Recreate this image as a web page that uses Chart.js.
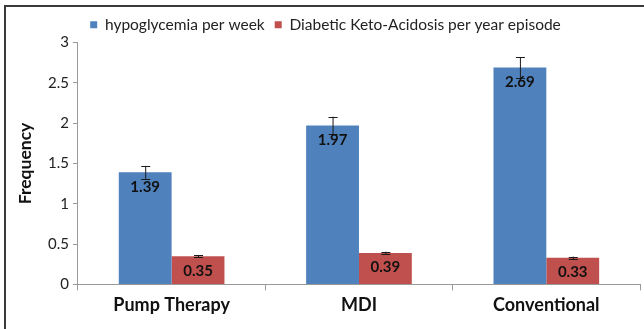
<!DOCTYPE html>
<html>
<head>
<meta charset="utf-8">
<script src="https://cdn.jsdelivr.net/npm/chart.js@4"></script>
<style>
  body { margin: 0; background: #fff; }
  #frame { position: absolute; left: 4px; top: 5px; width: 640px; height: 324px;
           border-top: 2px solid #3a3a3a; border-left: 2px solid #3a3a3a; box-sizing: border-box; }
  #wrap { position: absolute; left: 0; top: 0; width: 644px; height: 329px; }
</style>
</head>
<body>
<div id="frame"></div>
<div id="wrap"><canvas id="chart" width="644" height="329"></canvas></div>
<script>
// data
const categories = ['Pump Therapy', 'MDI', 'Conventional'];
const hypoValues = [1.39, 1.97, 2.69];
const dkaValues = [0.35, 0.39, 0.33];
const hypoErrors = [0.08, 0.11, 0.13];
const dkaErrors = [0.015, 0.015, 0.015];
const yTicks = [0, 0.5, 1, 1.5, 2, 2.5, 3];

const errorsBySet = [hypoErrors, dkaErrors];

// error bars + value labels
const extras = {
  id: 'extras',
  afterDatasetsDraw(chart) {
    const ctx = chart.ctx;
    const y = chart.scales.y;
    chart.data.datasets.forEach((ds, i) => {
      const meta = chart.getDatasetMeta(i);
      meta.data.forEach((bar, j) => {
        const v = ds.data[j];
        const e = errorsBySet[i][j];
        const x = bar.x;
        const top = y.getPixelForValue(v + e);
        const bot = y.getPixelForValue(v - e);
        ctx.save();
        ctx.strokeStyle = '#1a1a1a';
        ctx.lineWidth = 1;
        ctx.beginPath();
        ctx.moveTo(x + 0.5, top);
        ctx.lineTo(x + 0.5, bot);
        ctx.moveTo(x - 4, Math.round(top) + 0.5);
        ctx.lineTo(x + 5, Math.round(top) + 0.5);
        ctx.moveTo(x - 4, Math.round(bot) + 0.5);
        ctx.lineTo(x + 5, Math.round(bot) + 0.5);
        ctx.stroke();
        ctx.fillStyle = '#111';
        ctx.font = 'bold 15px Lato';
        ctx.textAlign = 'center';
        ctx.textBaseline = 'top';
        ctx.fillText(v.toFixed(2), x, bar.y + 7);
        ctx.restore();
      });
    });
  }
};

new Chart(document.getElementById('chart'), {
  type: 'bar',
  data: {
    labels: categories,
    datasets: [
      { label: 'hypoglycemia per week', data: hypoValues, backgroundColor: '#4F81BD' },
      { label: 'Diabetic Keto-Acidosis per year episode', data: dkaValues, backgroundColor: '#C0504D' }
    ]
  },
  options: {
    responsive: false,
    animation: false,
    layout: { padding: { left: 11, right: 4, top: 7, bottom: 9 } },
    datasets: { bar: { categoryPercentage: 0.564, barPercentage: 1 } },
    plugins: {
      tooltip: { enabled: false },
      legend: {
        position: 'top',
        labels: { boxWidth: 7, boxHeight: 7, padding: 10, color: '#222', font: { family: 'Lato', size: 15.5 } }
      }
    },
    scales: {
      x: {
        grid: { offset: true, drawOnChartArea: false, tickLength: 6, color: '#999' },
        border: { color: '#999' },
        ticks: { color: '#111', font: { family: 'Lato', size: 18, weight: 'bold' }, padding: 4 }
      },
      y: {
        min: 0, max: 3,
        afterBuildTicks(scale) { scale.ticks = yTicks.map(v => ({ value: v })); },
        grid: { drawOnChartArea: false, tickLength: 5, color: '#999' },
        border: { color: '#999' },
        ticks: { color: '#222', font: { family: 'Lato', size: 15 }, padding: 4, callback: v => String(v) },
        title: { display: true, text: 'Frequency', color: '#111', font: { family: 'Lato', size: 17.5, weight: 'bold' }, padding: { top: 4, bottom: 8 } }
      }
    }
  },
  plugins: [extras]
});
</script>
</body>
</html>
